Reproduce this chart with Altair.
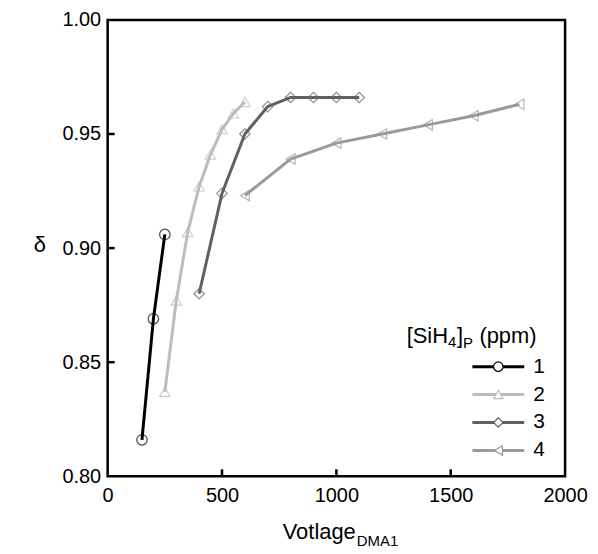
import altair as alt
import pandas as pd

# ---- data ----
series_names = ["1", "2", "3", "4"]
v1 = [150, 200, 250]
d1 = [0.816, 0.869, 0.906]
v2 = [250, 300, 350, 400, 450, 500, 550, 600]
d2 = [0.837, 0.877, 0.907, 0.927, 0.941, 0.952, 0.959, 0.964]
v3 = [400, 500, 600, 700, 800, 900, 1000, 1100]
d3 = [0.880, 0.924, 0.950, 0.962, 0.966, 0.966, 0.966, 0.966]
v4 = [600, 800, 1000, 1200, 1400, 1600, 1800]
d4 = [0.923, 0.939, 0.946, 0.950, 0.954, 0.958, 0.963]

x_ticks = [0, 500, 1000, 1500, 2000]
y_ticks = [0.80, 0.85, 0.90, 0.95, 1.00]

colors = ["#000000", "#bcbcbc", "#606060", "#9a9a9a"]
shapes = ["circle", "triangle-up", "diamond", "triangle-left"]

rows = []
for name, vs, ds in zip(series_names, [v1, v2, v3, v4], [d1, d2, d3, d4]):
    for i, (v, d) in enumerate(zip(vs, ds)):
        rows.append({"series": name, "V": v, "d": d, "order": i})
df = pd.DataFrame(rows)

W, H = 459, 458
FONT = "Liberation Sans"

xscale = alt.Scale(domain=[0, 2000], nice=False, zero=False)
yscale = alt.Scale(domain=[0.80, 1.00], nice=False, zero=False)
cscale = alt.Scale(domain=series_names, range=colors)
sscale = alt.Scale(domain=series_names, range=shapes)

base = alt.Chart(df)
lines = base.mark_line(strokeWidth=3).encode(
    x=alt.X("V:Q", scale=xscale,
            axis=alt.Axis(values=x_ticks, format="d", title=None, labelPadding=9,
                          labelFlush=False, labelOverlap=False, grid=False, ticks=False, domain=False)),
    y=alt.Y("d:Q", scale=yscale,
            axis=alt.Axis(values=y_ticks, format=".2f", title=None, labelPadding=7,
                          labelOverlap=False, grid=False, ticks=False, domain=False)),
    color=alt.Color("series:N", scale=cscale, legend=None),
    detail="series:N",
    order="order:Q",
)
points = base.mark_point(filled=False, size=110, strokeWidth=1.2).encode(
    x=alt.X("V:Q", scale=xscale),
    y=alt.Y("d:Q", scale=yscale),
    shape=alt.Shape("series:N", scale=sscale, legend=None),
    color=alt.Color("series:N", scale=cscale, legend=None),
)

# inward ticks
xt = alt.Chart(pd.DataFrame({"t": x_ticks[1:-1]})).mark_rule(color="black", strokeWidth=2.5).encode(
    x=alt.X("t:Q", scale=xscale), y=alt.value(H), y2=alt.value(H - 7))
yt = alt.Chart(pd.DataFrame({"t": y_ticks[1:-1]})).mark_rule(color="black", strokeWidth=2.5).encode(
    y=alt.Y("t:Q", scale=yscale), x=alt.value(0), x2=alt.value(7))

# legend
leg = alt.Chart(pd.DataFrame({"series": series_names, "row": [0, 1, 2, 3]})).transform_calculate(
    ly="348 + 28 * datum.row")
leg_lines = leg.mark_rule(strokeWidth=3).encode(
    x=alt.value(366), x2=alt.value(418), y=alt.Y("ly:Q", scale=None),
    color=alt.Color("series:N", scale=cscale, legend=None))
leg_pts = leg.mark_point(filled=False, size=90, strokeWidth=1.2, fill="white", fillOpacity=1).encode(
    x=alt.value(392), y=alt.Y("ly:Q", scale=None),
    shape=alt.Shape("series:N", scale=sscale, legend=None),
    color=alt.Color("series:N", scale=cscale, legend=None))
leg_txt = leg.mark_text(align="left", baseline="middle", font=FONT, fontSize=21, color="black").encode(
    x=alt.value(427), y=alt.Y("ly:Q", scale=None), text="series:N")

def txt(s, x, y, size, align="left"):
    return alt.Chart(pd.DataFrame({"s": [s]})).mark_text(
        align=align, baseline="alphabetic", font=FONT, fontSize=size, color="black"
    ).encode(x=alt.value(x), y=alt.value(y), text="s:N")

title_parts = [
    txt("[SiH", 300, 324, 22),
    txt("4", 341.6, 328, 15),
    txt("]", 350.5, 324, 22),
    txt("P", 356.6, 329, 15),
    txt("(ppm)", 373, 324, 22),
]
xtitle = [txt("Votlage", 249, 521, 22, "right"), txt("DMA1", 250, 528, 15)]
ytitle = [alt.Chart(pd.DataFrame({"s": ["δ"]})).mark_text(
    align="center", baseline="middle", font=FONT, fontSize=22, color="black"
).encode(x=alt.value(-68), y=alt.value(226), text="s:N")]

chart = alt.layer(
    lines, points, xt, yt, leg_lines, leg_pts, leg_txt, *title_parts, *xtitle, *ytitle
).properties(
    width=W, height=H,
    background="white",
    autosize=alt.AutoSizeParams(type="none"),
    padding={"left": 100, "top": 11, "right": 25, "bottom": 72},
).configure_view(
    stroke="black", strokeWidth=2.5
).configure_axis(
    domain=False, ticks=False, grid=False,
    labelFont=FONT, labelFontSize=20, labelColor="black",
)

chart.save("out.html", embed_options={"renderer": "svg", "actions": False})
